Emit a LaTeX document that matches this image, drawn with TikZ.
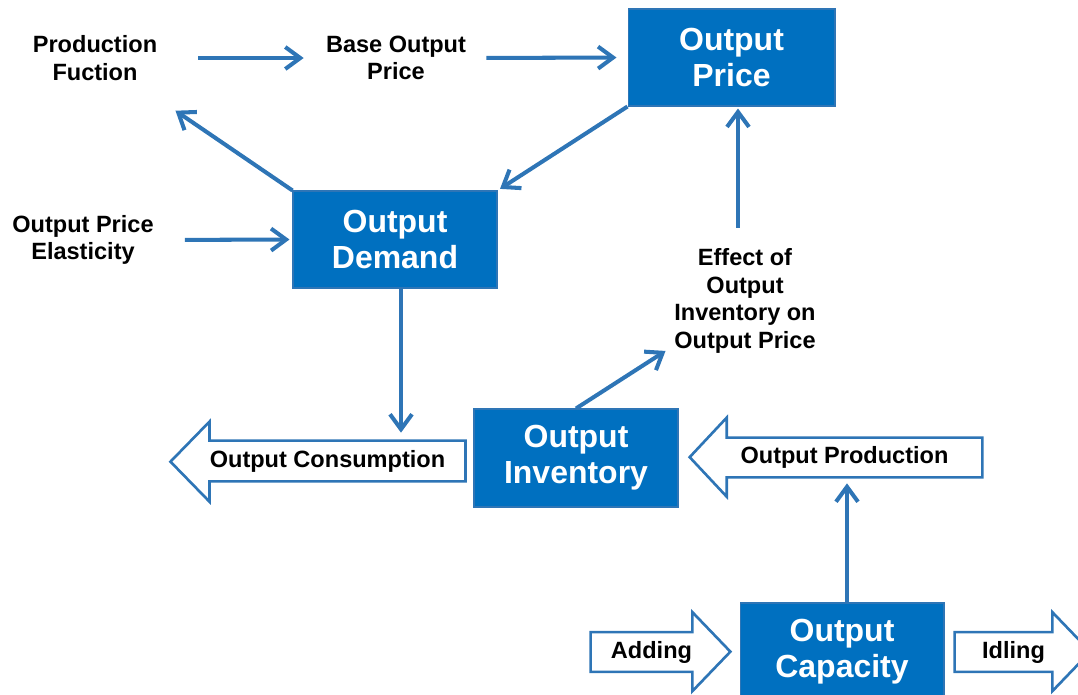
\documentclass[tikz,border=0pt]{standalone}
\usepackage{fontspec}
\setmainfont{Liberation Sans}
\usepackage{xcolor}
\usepackage{tikz}
\usetikzlibrary{arrows.meta,backgrounds}

\definecolor{boxblue}{RGB}{0,112,192}
\definecolor{arrowblue}{RGB}{46,117,182}
\newcommand\lblfont{\fontsize{13.4}{15.6}\selectfont\bfseries}
\newcommand\boxfont{\fontsize{18.2}{20.6}\selectfont\bfseries}

\begin{document}
\begin{tikzpicture}[x=0.02cm, y=-0.02cm,
    box/.style={fill=boxblue, draw=arrowblue, line width=0.6pt, text=white,
      font=\boxfont, align=center, inner sep=0pt,
      minimum width=4.08cm, minimum height=1.94cm},
    lbl/.style={font=\lblfont, align=center, inner sep=0pt},
    shaft/.style={lbl, minimum height=0.78cm},
    conn/.style={draw=arrowblue, line width=2.3pt,
      -{Straight Barb[length=0.3cm,width=0.44cm]}},
    blockarrow/.style={draw=arrowblue, line width=1.5pt, fill=white}]

  \useasboundingbox (0,0) rectangle (1078,694);

  % Stocks
  \node[box, minimum width=4.14cm] (price) at (731.5,57.5) {Output\\Price};
  \node[box] (demand) at (395,239.5) {Output\\Demand};
  \node[box, minimum height=1.96cm] (inv) at (576,458) {Output\\Inventory};
  \node[box, minimum height=1.96cm] (cap) at (842,652) {Output\\Capacity};

  % Auxiliary labels
  \node[lbl] (pf) at (95,58) {Production\\Fuction};
  \node[lbl] (bop) at (396,58) {Base Output\\Price};
  \node[lbl] (ope) at (83,240) {Output Price\\Elasticity};
  \node[lbl] (effect) at (745,301) {Effect of\\Output\\Inventory on\\Output Price};

  % Flows (text pushed towards the head)
  \node[shaft, minimum width=5.06cm, minimum height=0.8cm] (cons) at (337.5,461) {Output Consumption\hspace*{0.4cm}};
  \node[shaft, minimum width=5.1cm] (prod) at (854.5,457.5) {Output Production\hspace*{0.4cm}};
  \node[shaft, minimum width=1.94cm] (adding) at (641.5,652) {\hspace*{0.4cm}Adding};
  \node[shaft, minimum width=1.94cm] (idling) at (1003.5,652) {\hspace*{0.4cm}Idling};

  \begin{scope}[on background layer]
    \draw[blockarrow] (cons.north east) -- (cons.north west) -- ++(0,-19)
      -- ++(-39,40) -- ++(39,40) -- (cons.south west) -- (cons.south east) -- cycle;
    \draw[blockarrow] (prod.north east) -- (prod.north west) -- ++(0,-20)
      -- ++(-37,39.5) -- ++(37,39.5) -- (prod.south west) -- (prod.south east) -- cycle;
    \draw[blockarrow] (adding.north west) -- (adding.north east) -- ++(0,-20)
      -- ++(38,39.5) -- ++(-38,39.5) -- (adding.south east) -- (adding.south west) -- cycle;
    \draw[blockarrow] (idling.north west) -- (idling.north east) -- ++(0,-20)
      -- ++(38,39.5) -- ++(-38,39.5) -- (idling.south east) -- (idling.south west) -- cycle;
  \end{scope}

  % Links
  \draw[conn, shorten <=0.82cm, shorten >=0.44cm] (pf.east) -- (bop.west);
  \draw[conn, shorten <=0.4cm, shorten >=0.22cm] (bop.east) -- (price.west);
  \draw[conn, shorten >=0.06cm] (price.south west) -- (demand.north east);
  \draw[conn] (demand.north west) -- ([xshift=0.36cm,yshift=-0.6cm]pf.south east);
  \draw[conn, shorten <=0.62cm, shorten >=0.06cm] (ope.east) -- (demand.west);
  \draw[conn, shorten >=0.16cm] ([xshift=0.12cm]demand.south) -- ([xshift=0.12cm]demand.south |- cons.north);
  \draw[conn] (inv.north) -- ([xshift=-0.17cm,yshift=0.05cm]effect.south west);
  \draw[conn, shorten <=0.42cm, shorten >=0.04cm] ([xshift=0.13cm]price.south |- effect.north) -- ([xshift=0.13cm]price.south);
  \draw[conn, shorten >=0.12cm] ([xshift=0.1cm]cap.north) -- ([xshift=0.1cm]cap.north |- prod.south);

\end{tikzpicture}
\end{document}
